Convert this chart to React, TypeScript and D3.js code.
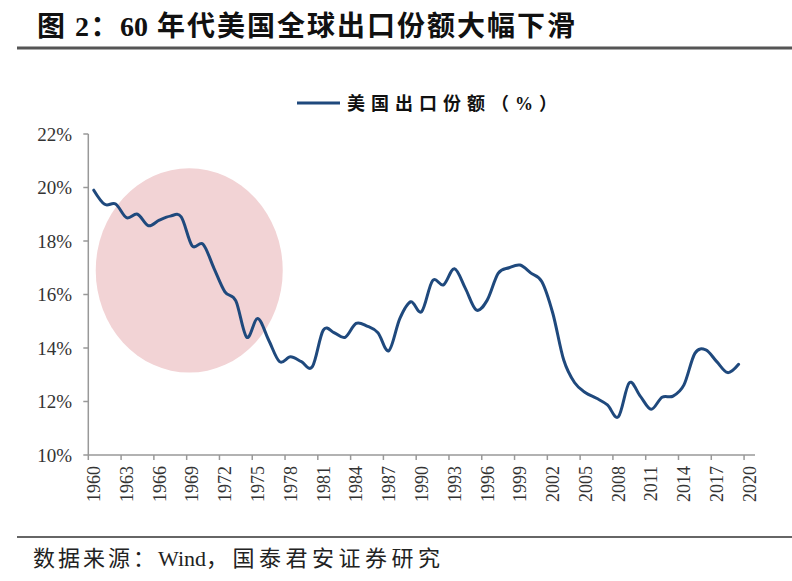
import React from "react";
import * as d3 from "d3";

const years: number[] = d3.range(1960, 2020);
const shareValues: number[] = [
  19.9, 19.37, 19.38, 18.87, 19.0, 18.57, 18.78, 18.93, 18.9, 17.82,
  17.88, 16.98, 16.1, 15.76, 14.4, 15.1, 14.3, 13.49, 13.67, 13.49,
  13.3, 14.67, 14.57, 14.4, 14.92, 14.82, 14.57, 13.9, 15.1, 15.73,
  15.36, 16.52, 16.36, 16.96, 16.23, 15.42, 15.79, 16.79, 17.0, 17.1,
  16.8, 16.48, 15.3, 13.55, 12.7, 12.33, 12.12, 11.87, 11.43, 12.7,
  12.2, 11.71, 12.16, 12.2, 12.62, 13.8, 13.93, 13.49, 13.08, 13.39,
];
const categories: number[] = d3.range(1960, 2021);
const xTickYears: number[] = d3.range(1960, 2021, 3);
const yTicks: number[] = [10, 12, 14, 16, 18, 20, 22];
// highlight ellipse, in data terms
const highlightYears: [number, number] = [1960.18, 1977.29];
const highlightValues: [number, number] = [13.08, 20.72];

const titleParts: string[] = ["图 2：", "60", " 年代美国全球出口份额大幅下滑"];
const legendText = "美国出口份额（%）";
const sourceParts: string[] = ["数据来源：", "Wind", "，国泰君安证券研究"];

const W = 792;
const H = 581;
const plotLeft = 88.3;
const plotRight = 755;
const plotTop = 134;
const plotBottom = 455;

const serif = "'Liberation Serif', 'Times New Roman', 'Noto Sans CJK SC', serif";
const lineColor = "#1f497d";

export default function App() {
  const x = d3
    .scaleBand<number>()
    .domain(categories)
    .range([plotLeft, plotRight])
    .padding(0);
  const bw = x.bandwidth();
  const xc = (yr: number) => (x(yr) as number) + bw / 2;
  const xLin = d3
    .scaleLinear()
    .domain([1960 - 0.5, 2020 + 0.5])
    .range([plotLeft, plotRight]);
  const y = d3.scaleLinear().domain([10, 22]).range([plotBottom, plotTop]);

  const data = years.map((yr, i) => ({ yr, v: shareValues[i] }));
  const line = d3
    .line<{ yr: number; v: number }>()
    .x((d) => xc(d.yr))
    .y((d) => y(d.v))
    .curve(d3.curveCatmullRom.alpha(0));

  const ex0 = xLin(highlightYears[0]);
  const ex1 = xLin(highlightYears[1]);
  const ey0 = y(highlightValues[1]);
  const ey1 = y(highlightValues[0]);

  return (
    <svg
      width={W}
      height={H}
      viewBox={`0 0 ${W} ${H}`}
      style={{ position: "absolute", left: 0, top: 0, background: "#fff" }}
    >
      <rect x={0} y={0} width={W} height={H} fill="#fff" />
      {/* Title */}
      <text x={37} y={36} fontFamily={serif} fontWeight="bold" fontSize={28} fill="#111">
        <tspan letterSpacing={1.5}>{titleParts[0]}</tspan>
        <tspan letterSpacing={0}>{titleParts[1]}</tspan>
        <tspan letterSpacing={2}>{titleParts[2]}</tspan>
      </text>
      <line x1={17} x2={W} y1={48} y2={48} stroke="#555" strokeWidth={3} />

      {/* Legend */}
      <line x1={297} x2={340} y1={103} y2={103} stroke={lineColor} strokeWidth={3} />
      <text
        x={347}
        y={110}
        fontFamily={serif}
        fontWeight="bold"
        fontSize={18}
        fill="#111"
        letterSpacing={6}
      >
        {legendText}
      </text>

      {/* highlight ellipse */}
      <ellipse
        cx={(ex0 + ex1) / 2}
        cy={(ey0 + ey1) / 2}
        rx={(ex1 - ex0) / 2}
        ry={(ey1 - ey0) / 2}
        fill="#f2d3d5"
      />

      {/* Y axis */}
      <line x1={plotLeft} x2={plotLeft} y1={plotTop} y2={plotBottom} stroke="#999" strokeWidth={1.5} />
      {yTicks.map((t) => (
        <g key={t}>
          <line x1={plotLeft - 5} x2={plotLeft} y1={y(t)} y2={y(t)} stroke="#999" strokeWidth={1.5} />
          <text
            x={72}
            y={y(t)}
            dy="0.35em"
            textAnchor="end"
            fontFamily={serif}
            fontSize={19}
            fill="#333"
          >
            {`${t}%`}
          </text>
        </g>
      ))}

      {/* X axis */}
      <line x1={plotLeft} x2={plotRight} y1={plotBottom} y2={plotBottom} stroke="#999" strokeWidth={1.5} />
      {xTickYears.map((yr) => (
        <g key={yr}>
          <line
            x1={x(yr) as number}
            x2={x(yr) as number}
            y1={plotBottom}
            y2={plotBottom + 5}
            stroke="#999"
            strokeWidth={1.5}
          />
          <text
            transform={`translate(${xc(yr)},${plotBottom + 11}) rotate(-90)`}
            dy="0.35em"
            textAnchor="end"
            fontFamily={serif}
            fontSize={18}
            fill="#333"
          >
            {yr}
          </text>
        </g>
      ))}

      {/* Line */}
      <path d={line(data) || ""} fill="none" stroke={lineColor} strokeWidth={3} strokeLinejoin="round" strokeLinecap="round" />

      {/* Footer */}
      <line x1={17} x2={W} y1={537} y2={537} stroke="#333" strokeWidth={1.5} />
      <text x={33} y={566} fontFamily={serif} fontSize={22} fill="#222">
        <tspan letterSpacing={3}>{sourceParts[0]}</tspan>
        <tspan letterSpacing={0}>{sourceParts[1]}</tspan>
        <tspan letterSpacing={4.5}>{sourceParts[2]}</tspan>
      </text>
    </svg>
  );
}
